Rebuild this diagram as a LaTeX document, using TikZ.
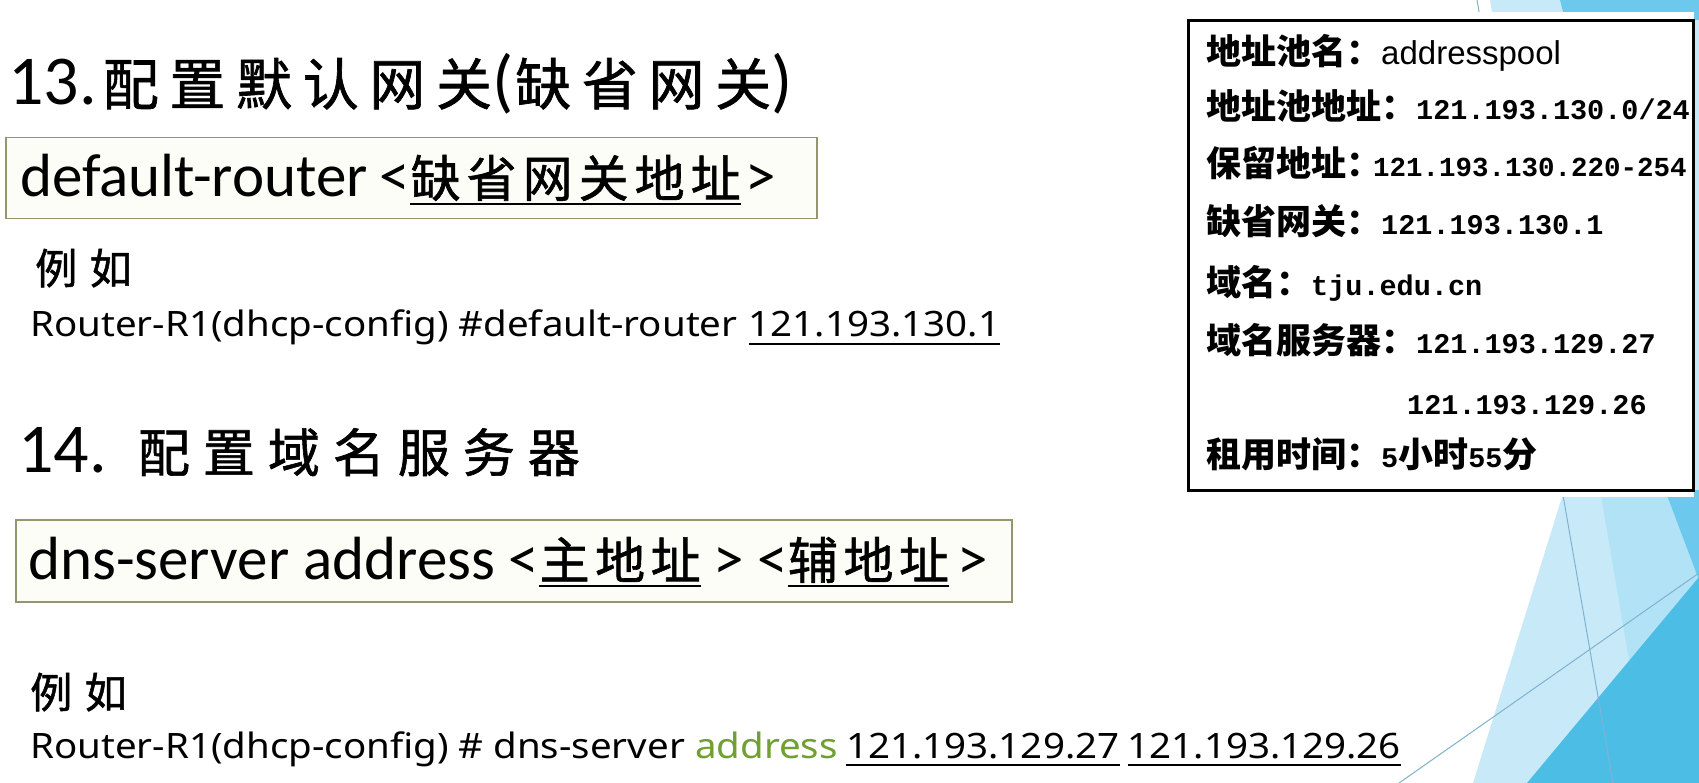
\documentclass[tikz,border=0pt]{standalone}
\usepackage{fontspec}
\usetikzlibrary{positioning}
\setmainfont{Carlito}
\newfontfamily\cjk{Noto Sans CJK SC}
\newfontfamily\brush[FakeBold=1.2]{Noto Sans CJK SC}
\newfontfamily\mono{Liberation Mono}
\newfontfamily\cmdfont[FakeStretch=1.1]{Noto Sans}
\newfontfamily\poolfont{Liberation Sans}

\definecolor{boxline}{RGB}{150,150,110}
\definecolor{boxfill}{RGB}{253,253,247}
\definecolor{cmdgreen}{RGB}{112,160,48}
\definecolor{facetA}{RGB}{200,234,248}
\definecolor{facetB}{RGB}{178,226,245}
\definecolor{facetC}{RGB}{108,201,237}
\definecolor{facetD}{RGB}{76,190,230}
\definecolor{facetline}{RGB}{128,178,208}

\newcommand\zh[3]{{\brush\fontsize{#1}{#1}\selectfont\addfontfeature{LetterSpace=#2}#3}}
\newcommand\ip[2][28.5]{{\mono\bfseries\fontsize{#1}{30}\selectfont#2}}

\begin{document}
\begin{tikzpicture}[x=1pt,y=-1pt]
  \tikzset{txt/.style={anchor=base west,inner sep=0pt},
    big/.style={txt,font=\fontsize{61}{64}\selectfont},
    cmdbox/.style={draw=boxline,fill=boxfill,line width=1.5pt,anchor=north west,inner sep=0pt},
    cmd/.style={txt,font=\cmdfont\fontsize{35}{40}\selectfont},
    pool/.style={txt,font=\cjk\bfseries\fontsize{35}{40}\selectfont}}

  \useasboundingbox (0,0) rectangle (1699,783);
  \fill[white] (0,0) rectangle (1699,783);

  % background facets
  \fill[facetA] (1490,0) -- (1699,0) -- (1699,783) -- (1473,783) -- (1562,497) -- (1540,300) -- cycle;
  \fill[facetC] (1560,0) -- (1699,0) -- (1699,20) -- (1565,20) -- cycle;
  \fill[facetB] (1600,490) -- (1699,490) -- (1699,783) -- (1650,783) -- cycle;
  \fill[facetC] (1665,490) -- (1699,490) -- (1699,580) -- cycle;
  \fill[facetD] (1527,783) -- (1699,577) -- (1699,783) -- cycle;
  \draw[facetline,line width=1pt] (1477,0) -- (1613,783);
  \draw[facetline,line width=1pt] (1399,783) -- (1699,573);

  % item 13
  \node[txt] (title13) at (8,105) {\fontsize{70}{74}\selectfont 13.\hspace{6pt}\zh{56}{19}{配置默认网关}(\hspace{2pt}\zh{56}{19}{缺省网关})};
  \node[cmdbox,minimum width=811,minimum height=81] (gwbox) at (5,137) {};
  \node[big] (gwcmd) at (20,197) {default-router\hspace{12pt}<\hspace{22pt}};
  \node[txt] (gwaddr) at (gwcmd.base east) {\zh{50}{12}{缺省网关地址}};
  \node[big] (gwend) at ([xshift=4pt]gwaddr.base east) {>};
  \node[txt] (gwex) at (35,284) {\zh{42}{30}{例如}};
  \node[cmd] (gwline) at (30,337) {Router-R1(dhcp-config) \#default-router};
  \node[cmd] (gwip) at ([xshift=11pt]gwline.base east) {121.193.130.1};

  % item 14
  \node[txt] (title14) at (18,472) {\fontsize{70}{74}\selectfont 14.\hspace{10pt} \zh{52}{25}{配置域名服务器}};
  \node[cmdbox,minimum width=996,minimum height=82] (dnsbox) at (15,519) {};
  \node[big] (dnscmd) at (28,579) {dns-server address <\hspace{20pt}};
  \node[txt] (dnsmain) at (dnscmd.base east) {\zh{50}{11}{主地址}};
  \node[big] (dnsmid) at (dnsmain.base east) {\hspace{12pt}> <\hspace{10pt}};
  \node[txt] (dnsaux) at (dnsmid.base east) {\zh{50}{11}{辅地址}};
  \node[big] (dnsend) at (dnsaux.base east) {\hspace{8pt}>};
  \node[txt] (dnsex) at (30,708) {\zh{42}{30}{例如}};
  \node[cmd] (dnsline) at (30,758) {Router-R1(dhcp-config) \# dns-server \textcolor{cmdgreen}{address}};
  \node[cmd] (dnsipone) at ([xshift=8pt]dnsline.base east) {121.193.129.27};
  \node[cmd] (dnsiptwo) at ([xshift=8pt]dnsipone.base east) {121.193.129.26};

  \foreach \n in {gwaddr,gwip,dnsmain,dnsaux,dnsipone,dnsiptwo}
    \draw[line width=2.4pt] ([yshift=-7pt]\n.base west) -- ([yshift=-7pt]\n.base east);

  % pool settings
  \fill[white] (1180,12) rectangle (1694,497);
  \draw[line width=3pt] (1188,21) rectangle (1693,490);
  \node[pool] (poolname) at (1206,65) {地址池名：{\poolfont\mdseries\fontsize{33}{36}\selectfont addresspool}};
  \node[pool] (pooladdr) at (1206,120) {地址池地址：\ip{121.193.130.0/24}};
  \node[pool] (reserved) at (1206,177) {保留地址：\hspace{-8pt}\ip[27.5]{121.193.130.220-254}};
  \node[pool] (gateway) at (1206,235) {缺省网关：\ip{121.193.130.1}};
  \node[pool] (domain) at (1206,296) {域名：\ip{tju.edu.cn}};
  \node[pool] (dnsone) at (1206,353) {域名服务器：\ip{121.193.129.27}};
  \node[txt] (dnstwo) at (1407,414) {\ip{121.193.129.26}};
  \node[pool] (lease) at (1206,467) {租用时间：\ip{5}小时\ip{55}分};
\end{tikzpicture}
\end{document}
